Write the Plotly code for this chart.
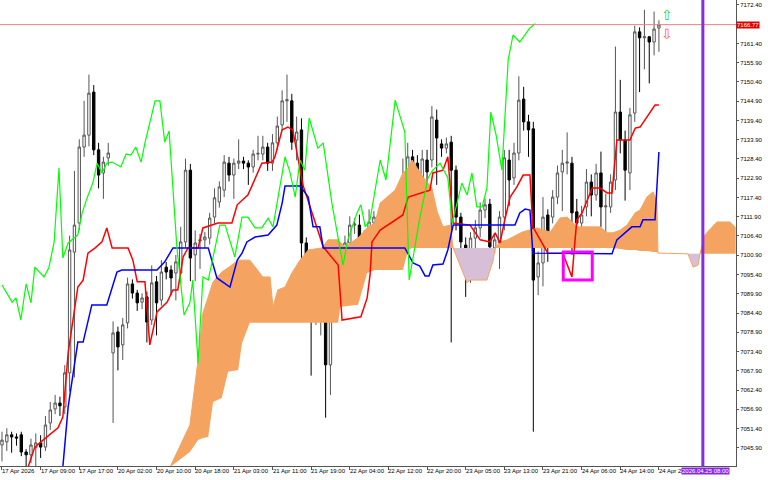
import plotly.graph_objects as go

# H1 candles, bar index 0..136
opens = [7046.7, 7047.6, 7049.6, 7049.0, 7049.6, 7044.7, 7043.9, 7045.9, 7047.3, 7046.1,
         7053.0, 7057.0, 7058.7, 7057.6, 7067.3, 7101.8, 7110.1, 7131.8, 7135.2, 7147.5,
         7131.0, 7124.4, 7128.7, 7073.0, 7079.0, 7075.3, 7081.6, 7092.7, 7090.1, 7087.5,
         7089.0, 7082.4, 7093.3, 7088.1, 7097.5, 7096.7, 7095.8, 7095.8, 7104.7, 7125.2,
         7101.0, 7105.0, 7105.3, 7105.8, 7111.8, 7116.1, 7119.5, 7127.2, 7123.8, 7127.2,
         7127.8, 7127.2, 7126.1, 7129.8, 7129.8, 7131.8, 7127.2, 7133.0, 7138.1, 7145.0,
         7145.0, 7133.8, 7136.7, 7104.4, 7095.8, 7085.3, 7086.1, 7091.3, 7069.6, 7093.8,
         7093.8, 7101.5, 7104.4, 7109.5, 7109.5, 7105.8, 7100.1, 7110.1, 7111.8, 7108.7,
         7108.4, 7108.7, 7111.5, 7111.8, 7122.4, 7129.0, 7127.2, 7120.4, 7128.1, 7128.1,
         7139.5, 7132.7, 7131.5, 7133.2, 7125.2, 7111.8, 7103.8, 7097.5, 7105.8, 7108.7,
         7113.8, 7115.5, 7103.0, 7104.4, 7111.8, 7128.1, 7123.0, 7130.1, 7145.5, 7139.0,
         7137.0, 7094.7, 7098.7, 7112.4, 7111.8, 7117.5, 7124.7, 7127.2, 7127.2, 7113.3,
         7110.1, 7114.7, 7121.8, 7118.1, 7124.4, 7114.7, 7114.7, 7122.4, 7141.8, 7133.8,
         7124.4, 7141.5, 7164.7, 7163.0, 7163.3, 7161.8, 7165.8]
closes = [7048.1, 7049.6, 7049.0, 7048.7, 7044.7, 7043.9, 7046.7, 7047.3, 7046.1, 7052.4,
          7056.7, 7058.7, 7057.9, 7067.3, 7102.4, 7109.5, 7131.8, 7135.2, 7147.2, 7131.0,
          7123.8, 7127.5, 7130.1, 7078.7, 7074.7, 7081.0, 7092.7, 7090.1, 7087.3, 7088.7,
          7081.8, 7093.0, 7087.3, 7096.1, 7096.1, 7094.4, 7099.0, 7104.7, 7125.2, 7100.1,
          7104.4, 7105.3, 7106.1, 7111.5, 7117.3, 7120.4, 7127.5, 7123.8, 7127.2, 7127.8,
          7127.2, 7126.1, 7129.8, 7130.0, 7131.8, 7127.2, 7133.0, 7137.8, 7145.0, 7145.3,
          7133.2, 7136.1, 7104.4, 7095.8, 7083.8, 7086.7, 7091.3, 7069.6, 7094.7, 7094.1,
          7101.0, 7104.4, 7109.5, 7109.8, 7105.8, 7100.1, 7110.4, 7111.8, 7108.7, 7108.4,
          7108.7, 7111.5, 7108.7, 7123.2, 7129.0, 7124.7, 7117.5, 7128.4, 7124.7, 7140.4,
          7134.4, 7131.5, 7132.7, 7125.2, 7111.8, 7104.7, 7097.5, 7105.8, 7108.7, 7113.8,
          7115.3, 7103.3, 7105.3, 7111.8, 7128.7, 7122.4, 7130.1, 7145.2, 7139.0, 7136.7,
          7093.8, 7098.7, 7111.8, 7107.3, 7117.5, 7124.4, 7127.2, 7127.5, 7113.0, 7110.1,
          7112.4, 7121.8, 7118.1, 7124.4, 7114.7, 7115.0, 7121.8, 7141.8, 7133.8, 7125.2,
          7141.0, 7164.7, 7163.0, 7163.3, 7161.8, 7165.5, 7166.7]
highs = [7050.5, 7051.5, 7050.5, 7050.0, 7050.5, 7045.5, 7048.5, 7050.0, 7049.5, 7055.0,
         7059.0, 7061.0, 7060.5, 7069.5, 7106.5, 7125.0, 7134.0, 7145.0, 7152.5, 7149.5,
         7133.0, 7129.0, 7133.0, 7082.0, 7080.5, 7083.0, 7094.5, 7094.0, 7091.0, 7090.0,
         7090.5, 7098.0, 7095.0, 7099.5, 7099.0, 7098.0, 7101.0, 7109.0, 7128.5, 7127.0,
         7108.0, 7107.0, 7107.5, 7113.0, 7120.0, 7122.0, 7129.5, 7129.0, 7128.5, 7134.0,
         7129.0, 7128.0, 7131.0, 7135.0, 7135.0, 7133.0, 7135.5, 7140.5, 7148.0, 7152.5,
         7147.0, 7140.5, 7140.0, 7106.0, 7097.5, 7090.0, 7093.5, 7093.0, 7096.5, 7096.0,
         7103.5, 7106.5, 7112.0, 7111.5, 7112.5, 7108.0, 7114.0, 7113.5, 7113.5, 7111.0,
         7114.0, 7114.5, 7114.0, 7128.5, 7133.0, 7131.0, 7129.5, 7131.0, 7131.0, 7143.5,
         7142.5, 7134.0, 7134.5, 7135.0, 7126.5, 7113.0, 7106.0, 7107.5, 7111.0, 7116.0,
         7117.0, 7117.0, 7107.0, 7113.5, 7131.0, 7131.0, 7133.0, 7152.0, 7149.0, 7141.0,
         7139.0, 7102.0, 7117.5, 7114.0, 7119.5, 7126.5, 7131.0, 7136.0, 7129.0, 7117.0,
         7115.0, 7125.5, 7124.0, 7127.0, 7130.5, 7118.5, 7124.0, 7160.5, 7151.0, 7136.5,
         7143.0, 7166.5, 7166.0, 7171.0, 7163.5, 7170.5, 7168.0]
lows = [7042.0, 7045.0, 7044.5, 7046.5, 7043.5, 7040.0, 7041.5, 7040.5, 7043.0, 7045.0,
        7051.0, 7055.5, 7055.0, 7055.5, 7062.0, 7066.0, 7108.0, 7129.0, 7132.0, 7129.5,
        7120.0, 7117.0, 7126.5, 7053.0, 7068.0, 7071.0, 7080.0, 7088.5, 7085.0, 7085.5,
        7076.0, 7081.0, 7078.0, 7086.5, 7094.0, 7089.5, 7088.0, 7093.0, 7103.0, 7093.5,
        7093.5, 7097.0, 7103.0, 7104.0, 7110.0, 7114.5, 7117.5, 7122.0, 7117.0, 7125.5,
        7125.5, 7121.0, 7124.5, 7128.0, 7128.0, 7125.0, 7125.0, 7131.0, 7136.5, 7139.0,
        7131.0, 7128.0, 7100.0, 7089.0, 7066.5, 7081.0, 7078.0, 7054.5, 7061.0, 7090.0,
        7088.0, 7099.0, 7102.0, 7107.0, 7104.0, 7098.0, 7098.0, 7108.0, 7104.5, 7101.0,
        7106.5, 7100.0, 7106.0, 7109.5, 7120.0, 7122.0, 7115.5, 7118.0, 7121.0, 7126.0,
        7121.0, 7129.0, 7130.0, 7076.0, 7108.0, 7100.0, 7089.0, 7093.0, 7101.0, 7106.0,
        7111.5, 7100.0, 7101.5, 7097.0, 7108.0, 7115.0, 7121.0, 7128.0, 7136.5, 7129.0,
        7050.5, 7089.5, 7092.0, 7099.0, 7110.0, 7115.5, 7113.5, 7124.0, 7101.0, 7105.0,
        7106.5, 7112.0, 7112.0, 7116.5, 7109.0, 7106.0, 7113.0, 7119.5, 7130.0, 7116.5,
        7119.5, 7139.0, 7147.5, 7154.0, 7150.0, 7158.0, 7159.0]

# Ichimoku lines (vertex bar index, price)
tenkan_x = [5.4, 6.8, 8.5, 11.6, 12.6, 13.7, 15.7, 16.8, 17.8, 19.3, 20.7, 21.7, 22.8, 26.1, 27.1,
            28.0, 29.6, 30.6, 32.1, 34.2, 35.4, 36.4, 37.5, 38.5, 40.6, 41.6, 44.7, 47.6, 48.7,
            50.9, 52.0, 53.8, 55.9, 56.5, 58.0, 59.2, 60.2, 61.3, 62.3, 66.5, 69.6, 70.4, 74.3,
            75.6, 76.2, 76.6, 78.3, 83.0, 84.1, 88.6, 89.2, 91.3, 92.3, 93.4, 96.9, 99.0, 101.0,
            102.1, 103.1, 104.1, 105.2, 106.6, 107.9, 109.3, 109.9, 113.0, 116.1, 118.0, 119.0,
            120.1, 122.2, 123.8, 125.3, 126.3, 127.3, 130.0, 131.1, 132.1, 134.2, 135.2, 136.0]
tenkan_y = [7040.4, 7046.1, 7048.1, 7051.6, 7054.7, 7073.0, 7091.8, 7093.8, 7101.5, 7103.0,
            7104.7, 7108.7, 7103.0, 7103.0, 7099.5, 7093.3, 7093.3, 7075.3, 7084.7, 7087.5,
            7091.0, 7091.0, 7100.4, 7103.0, 7103.0, 7108.7, 7110.1, 7110.1, 7115.3, 7118.1,
            7121.5, 7127.2, 7127.5, 7129.0, 7136.7, 7137.5, 7136.7, 7129.0, 7121.0, 7103.3,
            7098.1, 7082.4, 7083.3, 7088.7, 7095.3, 7104.7, 7108.1, 7112.4, 7117.5, 7119.5,
            7124.4, 7125.2, 7129.0, 7110.1, 7109.5, 7105.3, 7104.7, 7107.3, 7104.4, 7111.0,
            7117.5, 7120.4, 7123.8, 7123.8, 7109.0, 7101.5, 7101.5, 7094.7, 7111.0, 7113.0,
            7120.1, 7120.1, 7118.7, 7118.7, 7133.8, 7133.8, 7137.2, 7137.5, 7141.8, 7143.8,
            7143.8]
kijun_x = [12.6, 13.7, 15.7, 16.8, 18.6, 21.7, 23.8, 24.8, 32.1, 33.7, 35.4, 42.7, 44.5, 47.2,
           48.7, 49.7, 50.7, 52.4, 55.1, 56.9, 58.0, 58.6, 61.7, 63.4, 64.4, 65.8, 66.5, 83.4,
           85.1, 86.5, 87.6, 88.4, 89.2, 91.3, 92.3, 93.4, 106.2, 107.2, 108.3, 109.3, 109.9,
           126.3, 127.3, 130.4, 132.1, 132.7, 135.2, 136.0]
kijun_y = [7040.4, 7057.6, 7076.1, 7076.1, 7086.7, 7086.7, 7096.1, 7096.7, 7096.7, 7099.0,
           7103.0, 7103.0, 7094.4, 7091.8, 7099.5, 7101.5, 7104.7, 7106.1, 7106.7, 7109.5,
           7115.8, 7120.7, 7120.7, 7117.5, 7109.0, 7109.0, 7103.0, 7103.0, 7098.7, 7097.8,
           7095.0, 7095.0, 7098.1, 7098.4, 7102.4, 7109.5, 7109.5, 7113.0, 7114.1, 7113.8,
           7101.5, 7101.3, 7105.3, 7109.0, 7109.0, 7111.0, 7111.0, 7130.4]
chikou_x = [0, 2.1, 2.9, 3.9, 5.0, 6.0, 6.8, 8.7, 9.7, 10.8, 11.8, 12.6, 13.7, 15.7, 16.6, 17.6,
            18.8, 19.7, 20.7, 21.7, 22.8, 24.6, 25.7, 26.7, 27.7, 28.8, 29.6, 31.7, 32.7, 33.7,
            34.6, 35.4, 36.2, 37.7, 38.9, 39.5, 40.6, 41.6, 42.7, 45.1, 46.2, 48.2, 49.7, 50.9,
            52.4, 53.8, 55.1, 56.1, 57.1, 58.6, 59.6, 60.7, 61.7, 62.7, 63.6, 65.4, 66.5, 68.3,
            70.6, 71.6, 73.5, 74.3, 75.2, 76.2, 78.3, 79.5, 81.4, 83.4, 84.3, 86.5, 88.2, 89.2,
            90.7, 92.3, 93.2, 95.2, 96.3, 97.3, 98.3, 99.4, 100.4, 101.2, 102.3, 103.5, 104.8,
            105.8, 107.2, 109.3, 110.4]
chikou_y = [7092.4, 7087.5, 7088.7, 7082.4, 7092.7, 7087.3, 7097.5, 7094.7, 7097.3, 7104.7,
            7125.8, 7100.1, 7104.4, 7106.7, 7113.0, 7117.2, 7121.5, 7127.2, 7124.4, 7127.2,
            7127.5, 7126.1, 7129.8, 7129.5, 7131.8, 7127.5, 7133.0, 7145.0, 7145.0, 7133.2,
            7136.4, 7118.1, 7103.3, 7083.8, 7087.3, 7093.8, 7070.1, 7094.7, 7093.8, 7109.5,
            7109.5, 7100.4, 7111.8, 7111.8, 7108.7, 7108.7, 7111.5, 7109.0, 7116.7, 7129.0,
            7124.7, 7117.5, 7128.1, 7125.2, 7140.1, 7131.5, 7133.0, 7115.8, 7098.1, 7105.3,
            7113.0, 7115.3, 7109.0, 7111.0, 7128.1, 7122.4, 7145.2, 7136.1, 7093.8, 7111.5,
            7123.0, 7125.2, 7127.2, 7123.0, 7110.1, 7121.5, 7118.1, 7124.4, 7114.7, 7114.7,
            7120.1, 7141.8, 7135.2, 7125.2, 7156.7, 7163.8, 7161.8, 7165.8, 7167.0]
cloud_x = [34.8, 38.9, 40.6, 41.6, 42.7, 43.7, 45.5, 46.8, 48.9, 49.7, 51.3, 54.0, 55.5, 56.1,
           57.1, 58.6, 60.0, 61.7, 63.4, 66.3, 67.5, 69.6, 70.0, 71.0, 73.1, 73.7, 75.6, 77.2,
           78.3, 81.4, 83.0, 84.1, 84.9, 87.2, 89.0, 90.1, 91.3, 92.8, 93.4, 96.3, 96.9, 100.4,
           101.7, 102.1, 103.1, 104.6, 107.7, 110.8, 113.5, 115.5, 117.0, 119.1, 123.8, 125.3,
           126.5, 128.0, 129.4, 131.1, 132.1, 133.5, 134.8, 135.6, 135.8, 142.0, 143.1, 144.1,
           144.5, 145.5, 148.0, 150.7, 151.9]
span_a = [7040.4, 7052.4, 7071.0, 7084.4, 7089.0, 7093.3, 7096.1, 7097.3, 7099.5, 7099.5,
          7099.5, 7094.7, 7094.7, 7086.1, 7091.0, 7091.8, 7095.8, 7099.5, 7102.4, 7103.0,
          7105.3, 7105.3, 7104.7, 7103.3, 7105.3, 7105.8, 7108.7, 7110.1, 7115.8, 7119.5,
          7124.4, 7125.8, 7128.1, 7123.2, 7120.1, 7113.3, 7109.0, 7109.5, 7103.0, 7093.0,
          7093.8, 7093.8, 7099.5, 7103.0, 7104.7, 7105.3, 7107.5, 7108.7, 7107.5, 7111.5,
          7111.8, 7109.0, 7109.0, 7107.3, 7107.3, 7108.1, 7109.5, 7113.0, 7113.8, 7117.5,
          7119.0, 7115.8, 7101.5, 7101.3, 7097.5, 7098.1, 7101.3, 7106.7, 7110.4, 7110.4,
          7108.7]
span_b = [7040.4, 7044.7, 7048.1, 7048.7, 7049.0, 7059.0, 7060.1, 7067.6, 7068.1, 7075.8,
          7081.6, 7081.6, 7081.6, 7081.6, 7081.6, 7081.6, 7081.6, 7081.6, 7081.6, 7081.6,
          7081.6, 7081.6, 7086.1, 7086.4, 7086.7, 7086.7, 7095.8, 7096.7, 7096.7, 7096.7,
          7096.7, 7102.4, 7103.0, 7103.0, 7103.0, 7103.0, 7103.0, 7103.0, 7103.0, 7103.0,
          7103.0, 7103.0, 7103.0, 7103.0, 7103.0, 7103.0, 7103.0, 7103.0, 7103.0, 7103.0,
          7103.0, 7103.0, 7103.0, 7103.0, 7103.0, 7102.7, 7102.4, 7102.4, 7102.1, 7102.1,
          7101.8, 7101.8, 7101.5, 7101.3, 7101.3, 7101.3, 7101.3, 7101.3, 7101.3, 7101.3,
          7101.3]

y_ticks = [7172.4, 7161.4, 7155.9, 7150.4, 7144.9, 7139.4, 7133.9, 7128.4, 7122.9, 7117.4,
           7111.9, 7106.4, 7100.9, 7095.4, 7089.9, 7084.4, 7078.9, 7073.4, 7067.9, 7062.4,
           7056.9, 7051.4, 7045.9]
x_labels = ["17 Apr 2026", "17 Apr 09:00", "17 Apr 17:00", "20 Apr 02:00", "20 Apr 10:00",
            "20 Apr 18:00", "21 Apr 03:00", "21 Apr 11:00", "21 Apr 19:00", "22 Apr 04:00",
            "22 Apr 12:00", "22 Apr 20:00", "23 Apr 05:00", "23 Apr 13:00", "23 Apr 21:00",
            "24 Apr 06:00", "24 Apr 14:00", "24 Apr 22"]
bid_price = 7166.77

bars = list(range(len(opens)))
fig = go.Figure()

# Kumo: orange where span A >= span B, thistle where below
def add_cloud(sign, color):
    seg = []
    for i in range(len(cloud_x)):
        d = (span_a[i] - span_b[i]) * sign
        if d >= 0:
            seg.append(i)
        if d < 0 or i == len(cloud_x) - 1:
            if len(seg) > 1:
                xs = [cloud_x[k] for k in seg]
                fig.add_trace(go.Scatter(
                    x=xs + xs[::-1],
                    y=[span_a[k] for k in seg] + [span_b[k] for k in seg][::-1],
                    fill="toself", fillcolor=color, line=dict(width=0),
                    mode="lines", hoverinfo="skip", showlegend=False))
            seg = []

add_cloud(1, "#f4a460")
add_cloud(-1, "#d8bfd8")
fig.add_trace(go.Scatter(x=cloud_x, y=span_a, mode="lines", line=dict(color="#f4a460", width=1),
                         showlegend=False))

fig.add_trace(go.Candlestick(
    x=bars, open=opens, high=highs, low=lows, close=closes,
    increasing=dict(line=dict(color="#555555", width=1), fillcolor="white"),
    decreasing=dict(line=dict(color="#000000", width=1), fillcolor="black"),
    whiskerwidth=0, showlegend=False))

fig.add_trace(go.Scatter(x=tenkan_x, y=tenkan_y, mode="lines", line=dict(color="red", width=1.5),
                         showlegend=False))
fig.add_trace(go.Scatter(x=kijun_x, y=kijun_y, mode="lines", line=dict(color="blue", width=1.5),
                         showlegend=False))
fig.add_trace(go.Scatter(x=chikou_x, y=chikou_y, mode="lines", line=dict(color="lime", width=1.2),
                         showlegend=False))

# bid line, period separator, marker box
fig.add_hline(y=bid_price, line=dict(color="#f08080", width=1))
fig.add_vline(x=145.1, line=dict(color="#8a2be2", width=3))
fig.add_shape(type="rect", x0=116.2, x1=122.2, y0=7093.8, y1=7101.8,
              line=dict(color="#ff00ff", width=3))

fig.add_annotation(x=1, xref="paper", xanchor="left", y=bid_price, text="7166.77",
                   showarrow=False, bgcolor="#e00000", font=dict(color="white", size=6),
                   borderpad=0)
fig.add_annotation(x=137.6, y=7169.5, text="⇧", showarrow=False,
                   font=dict(color="#33cc33", size=14))
fig.add_annotation(x=137.6, y=7164.0, text="⇩", showarrow=False,
                   font=dict(color="#ff5555", size=14))

for k, lab in enumerate(x_labels):
    fig.add_annotation(x=k * 8 - 0.2, y=-0.003, yref="paper", yanchor="top", xanchor="left",
                       text=lab, showarrow=False, font=dict(size=6, color="#000"),
                       borderpad=0)
fig.add_annotation(x=140.6, y=-0.003, yref="paper", yanchor="top", xanchor="left",
                   text="2026.04.25 08:00", showarrow=False, bgcolor="#8a2be2",
                   font=dict(size=6, color="white"), borderpad=0)

fig.update_layout(
    width=768, height=480, margin=dict(l=0, r=32, t=0, b=14),
    paper_bgcolor="white", plot_bgcolor="white",
    font=dict(family="Liberation Sans", size=6, color="#000"),
    xaxis=dict(range=[-0.41, 151.96], rangeslider=dict(visible=False), showgrid=False,
               zeroline=False, tickvals=[k * 8 for k in range(len(x_labels))],
               showticklabels=False, ticks="outside", ticklen=3, tickcolor="#555",
               showline=True, linecolor="#555", mirror=True),
    yaxis=dict(range=[7040.7, 7173.8], side="right", tickvals=y_ticks,
               ticktext=["%.2f" % v for v in y_ticks], ticks="outside", ticklen=2,
               tickcolor="#555", showgrid=False, zeroline=False, showline=True,
               linecolor="#555", mirror=True, tickfont=dict(size=6)),
)

fig.write_html("out.html", config={"displayModeBar": False},
               post_script="document.body.style.margin='0';")
